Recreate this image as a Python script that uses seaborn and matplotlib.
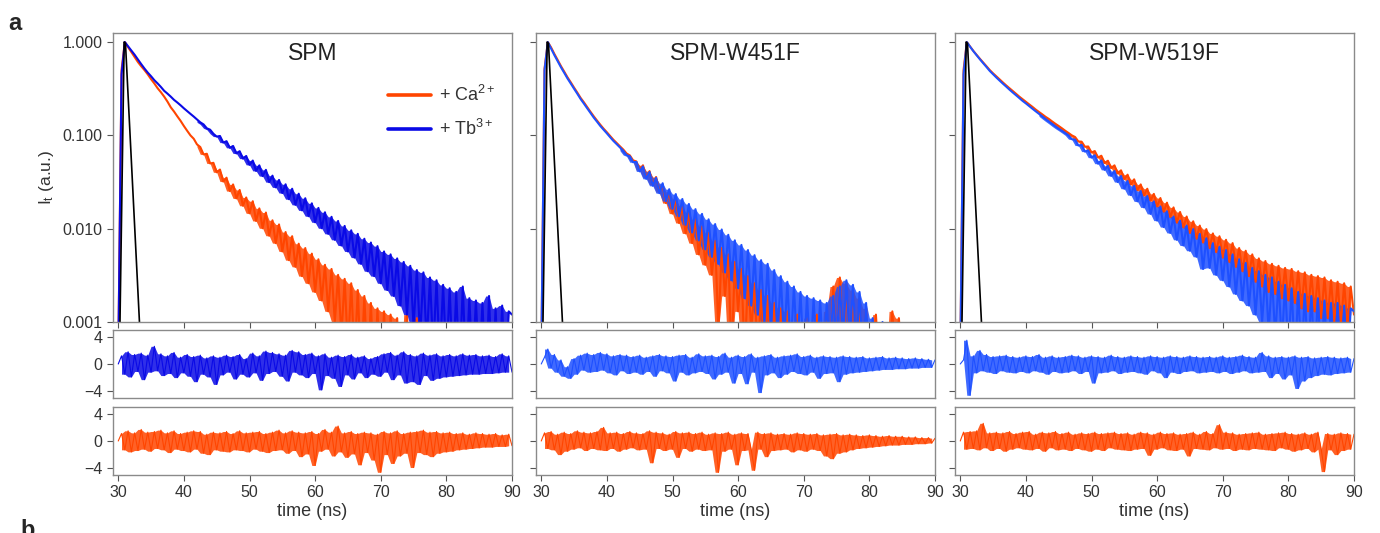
import numpy as np
import matplotlib
matplotlib.use("Agg")
import matplotlib.pyplot as plt
import seaborn as sns

# %%
# time channels of the TCSPC histograms, 0.5 ns apart (30 ... 90 ns)
time_ns = np.arange(30.0, 90.01, 0.5)

# instrument response (black)
irf_time = [30.2, 30.9, 31.1, 33.3]
irf_value = [0.0005, 1.0, 0.97, 0.0008]

# normalised decays I_t, one row = 5 ns
spm_ca = [0.0004, 0.5, 1.0, 0.88, 0.78, 0.69, 0.61, 0.55, 0.50, 0.45,
          0.40, 0.36, 0.32, 0.29, 0.26, 0.23, 0.20, 0.18, 0.16, 0.143,
          0.126, 0.112, 0.100, 0.092, 0.080, 0.075, 0.0625, 0.0635, 0.0500, 0.0508,
          0.0402, 0.0430, 0.0320, 0.0352, 0.0253, 0.0298, 0.0211, 0.0260, 0.0176, 0.0216,
          0.0146, 0.0197, 0.0121, 0.0165, 0.0101, 0.0149, 0.0084, 0.0123, 0.0070, 0.0111,
          0.0057, 0.0092, 0.0046, 0.0083, 0.0039, 0.0069, 0.0031, 0.0062, 0.0026, 0.0054,
          0.0021, 0.0047, 0.0017, 0.0041, 0.0013, 0.0037, 0.0010, 0.0032, 0.0007, 0.0029,
          0.0005, 0.0026, 0.0004, 0.0022, 0.0003, 0.0019, 0.0003, 0.0016, 0.0002, 0.0014,
          0.0002, 0.0013, 0.0002, 0.0012, 0.0002, 0.0011, 0.0002, 0.0002, 0.0012, 0.0002,
          0.0002, 0.0011, 0.0002, 0.0002, 0.0002, 0.0002, 0.0002, 0.0002, 0.0002, 0.0002,
          0.0002, 0.0002, 0.0002, 0.0002, 0.0002, 0.0002, 0.0002, 0.0002, 0.0002, 0.0002,
          0.0002, 0.0002, 0.0002, 0.0002, 0.0002, 0.0002, 0.0002, 0.0002, 0.0002, 0.0002,
          0.0002]
spm_tb = [0.0004, 0.45, 1.0, 0.90, 0.81, 0.73, 0.65, 0.58, 0.52, 0.47,
          0.43, 0.39, 0.36, 0.33, 0.30, 0.28, 0.26, 0.24, 0.225, 0.21,
          0.195, 0.182, 0.170, 0.159, 0.148, 0.138, 0.131, 0.119, 0.115, 0.104,
          0.097, 0.0985, 0.0836, 0.0866, 0.0735, 0.0770, 0.0640, 0.0677, 0.0563, 0.0601,
          0.0483, 0.0537, 0.0416, 0.0477, 0.0366, 0.0427, 0.0315, 0.0370, 0.0277, 0.0333,
          0.0241, 0.0299, 0.0207, 0.0268, 0.0180, 0.0237, 0.0157, 0.0212, 0.0136, 0.0187,
          0.0117, 0.0167, 0.0101, 0.0150, 0.0088, 0.0134, 0.0076, 0.0121, 0.0066, 0.0107,
          0.0057, 0.0096, 0.0049, 0.0088, 0.0042, 0.0078, 0.0035, 0.0071, 0.0031, 0.0065,
          0.0026, 0.0057, 0.0022, 0.0053, 0.0019, 0.0048, 0.0015, 0.0044, 0.0012, 0.0040,
          0.0009, 0.0036, 0.0007, 0.0034, 0.0006, 0.0030, 0.0005, 0.0028, 0.0004, 0.0025,
          0.0004, 0.0023, 0.0003, 0.0021, 0.0003, 0.0024, 0.0003, 0.0018, 0.0003, 0.0017,
          0.0003, 0.0016, 0.0002, 0.0019, 0.0002, 0.0014, 0.0002, 0.0015, 0.0002, 0.0013,
          0.0012]

w451f_ca = [0.0004, 0.52, 1.0, 0.876, 0.746, 0.643, 0.553, 0.482, 0.419, 0.370,
            0.325, 0.287, 0.252, 0.226, 0.201, 0.179, 0.160, 0.144, 0.130, 0.118,
            0.108, 0.0984, 0.0897, 0.0828, 0.0763, 0.0705, 0.0640, 0.0610, 0.0540, 0.0525,
            0.0424, 0.0478, 0.0353, 0.0414, 0.0297, 0.0358, 0.0247, 0.0295, 0.0188, 0.0248,
            0.0145, 0.0210, 0.0115, 0.0177, 0.0089, 0.0150, 0.0070, 0.0126, 0.0053, 0.0106,
            0.0041, 0.0090, 0.0032, 0.0074, 0.0008, 0.0062, 0.0019, 0.0053, 0.0004, 0.0044,
            0.0013, 0.0037, 0.0004, 0.0031, 0.0008, 0.0026, 0.0004, 0.0022, 0.0004, 0.0019,
            0.0003, 0.0016, 0.0003, 0.0014, 0.0003, 0.0013, 0.0003, 0.0003, 0.0012, 0.0003,
            0.0003, 0.0011, 0.0003, 0.0003, 0.0012, 0.0003, 0.0003, 0.0013, 0.0004, 0.0024,
            0.0005, 0.0030, 0.0005, 0.0026, 0.0004, 0.0022, 0.0004, 0.0018, 0.0003, 0.0014,
            0.0003, 0.0003, 0.0012, 0.0003, 0.0003, 0.0003, 0.0003, 0.0013, 0.0003, 0.0011,
            0.0003, 0.0003, 0.0003, 0.0003, 0.0003, 0.0003, 0.0003, 0.0003, 0.0003, 0.0003,
            0.0003]
w451f_tb = [0.0004, 0.5, 1.0, 0.851, 0.724, 0.624, 0.537, 0.468, 0.407, 0.359,
            0.316, 0.279, 0.245, 0.219, 0.195, 0.174, 0.155, 0.140, 0.126, 0.115,
            0.105, 0.0955, 0.0871, 0.0804, 0.0741, 0.0684, 0.0615, 0.0597, 0.0515, 0.0520,
            0.0411, 0.0464, 0.0342, 0.0406, 0.0288, 0.0351, 0.0240, 0.0307, 0.0197, 0.0265,
            0.0163, 0.0235, 0.0136, 0.0208, 0.0110, 0.0184, 0.0091, 0.0162, 0.0075, 0.0144,
            0.0060, 0.0126, 0.0050, 0.0112, 0.0042, 0.0098, 0.0034, 0.0086, 0.0028, 0.0075,
            0.0023, 0.0067, 0.0018, 0.0059, 0.0015, 0.0052, 0.0012, 0.0046, 0.0010, 0.0042,
            0.0008, 0.0036, 0.0007, 0.0031, 0.0006, 0.0027, 0.0005, 0.0024, 0.0005, 0.0021,
            0.0004, 0.0019, 0.0004, 0.0018, 0.0004, 0.0017, 0.0004, 0.0016, 0.0005, 0.0019,
            0.0006, 0.0024, 0.0007, 0.0028, 0.0006, 0.0025, 0.0005, 0.0021, 0.0004, 0.0016,
            0.0003, 0.0011, 0.0003, 0.0003, 0.0010, 0.0003, 0.0003, 0.0003, 0.0003, 0.0003,
            0.0003, 0.0003, 0.0003, 0.0003, 0.0003, 0.0003, 0.0003, 0.0003, 0.0003, 0.0003,
            0.0003]

w519f_ca = [0.0004, 0.5, 1.0, 0.895, 0.803, 0.728, 0.661, 0.603, 0.550, 0.501,
            0.462, 0.429, 0.398, 0.369, 0.343, 0.320, 0.299, 0.279, 0.260, 0.244,
            0.229, 0.215, 0.202, 0.189, 0.178, 0.168, 0.158, 0.150, 0.141, 0.133,
            0.126, 0.119, 0.112, 0.106, 0.100, 0.096, 0.086, 0.0855, 0.0755, 0.0760,
            0.0655, 0.0679, 0.0578, 0.0605, 0.0505, 0.0535, 0.0446, 0.0477, 0.0390, 0.0422,
            0.0340, 0.0379, 0.0298, 0.0338, 0.0259, 0.0298, 0.0227, 0.0268, 0.0200, 0.0236,
            0.0173, 0.0213, 0.0152, 0.0190, 0.0133, 0.0169, 0.0116, 0.0151, 0.0103, 0.0135,
            0.0090, 0.0120, 0.0078, 0.0108, 0.0071, 0.0099, 0.0062, 0.0089, 0.0056, 0.0083,
            0.0049, 0.0076, 0.0044, 0.0070, 0.0039, 0.0062, 0.0035, 0.0058, 0.0031, 0.0053,
            0.0027, 0.0048, 0.0024, 0.0045, 0.0021, 0.0042, 0.0020, 0.0040, 0.0018, 0.0038,
            0.0017, 0.0037, 0.0016, 0.0035, 0.0014, 0.0034, 0.0013, 0.0032, 0.0013, 0.0031,
            0.0011, 0.0030, 0.0011, 0.0028, 0.0010, 0.0027, 0.0009, 0.0026, 0.0009, 0.0024,
            0.0012]
w519f_tb = [0.0004, 0.45, 1.0, 0.891, 0.798, 0.721, 0.653, 0.593, 0.540, 0.490,
            0.452, 0.417, 0.386, 0.358, 0.333, 0.309, 0.288, 0.269, 0.251, 0.234,
            0.220, 0.206, 0.193, 0.181, 0.170, 0.160, 0.150, 0.141, 0.133, 0.125,
            0.118, 0.112, 0.106, 0.100, 0.091, 0.090, 0.0778, 0.0791, 0.0670, 0.0691,
            0.0577, 0.0612, 0.0497, 0.0538, 0.0427, 0.0472, 0.0368, 0.0415, 0.0316, 0.0367,
            0.0268, 0.0325, 0.0229, 0.0288, 0.0196, 0.0253, 0.0169, 0.0224, 0.0144, 0.0196,
            0.0122, 0.0173, 0.0104, 0.0154, 0.0090, 0.0135, 0.0076, 0.0122, 0.0066, 0.0108,
            0.0058, 0.0099, 0.0050, 0.0088, 0.0037, 0.0079, 0.0038, 0.0070, 0.0032, 0.0064,
            0.0028, 0.0059, 0.0024, 0.0053, 0.0020, 0.0047, 0.0017, 0.0043, 0.0015, 0.0038,
            0.0012, 0.0035, 0.0010, 0.0032, 0.0008, 0.0030, 0.0007, 0.0027, 0.0006, 0.0025,
            0.0005, 0.0023, 0.0004, 0.0021, 0.0004, 0.0020, 0.0004, 0.0019, 0.0004, 0.0018,
            0.0004, 0.0017, 0.0003, 0.0016, 0.0003, 0.0016, 0.0003, 0.0015, 0.0003, 0.0014,
            0.0013]

# weighted residuals of the fits
res_spm_tb = [0.0, 1.2, -1.5, 1.8, -1.9, 1.4, -1.1, 1.6, -2.3, 1.3,
              -1.2, 2.6, -1.0, 1.5, -1.7, 1.2, -1.4, 1.7, -2.0, 1.0,
              -1.3, 1.4, -1.8, 1.1, -2.6, 1.3, -1.5, 0.9, -1.9, 1.2,
              -3.0, 1.0, -1.6, 1.3, -1.2, 1.1, -2.2, 1.4, -1.5, 0.8,
              -1.9, 1.6, -1.3, 1.2, -2.4, 1.9, -1.4, 1.7, -1.1, 1.5,
              -1.8, 1.3, -2.5, 2.0, -1.2, 1.8, -1.6, 1.4, -2.0, 1.6,
              -1.4, 1.2, -3.8, 1.5, -1.7, 1.0, -2.1, 1.3, -3.3, 1.1,
              -1.6, 1.4, -2.2, 1.0, -1.3, 1.2, -2.0, 0.8, -1.5, 1.1,
              -1.8, 1.5, -1.2, 1.7, -2.3, 1.3, -1.6, 1.8, -2.8, 1.4,
              -2.6, 1.2, -3.0, 1.6, -1.7, 1.3, -2.4, 1.5, -2.1, 1.2,
              -1.9, 1.4, -1.8, 1.2, -1.7, 1.5, -1.6, 1.3, -1.5, 1.4,
              -1.5, 1.2, -1.4, 1.3, -1.4, 1.1, -1.3, 1.5, -1.2, 1.2,
              -1.2]
res_spm_ca = [0.0, 1.1, -1.3, 1.5, -1.6, 1.2, -1.4, 1.7, -1.2, 1.3,
              -1.5, 1.4, -1.1, 1.6, -1.3, 1.2, -1.7, 1.5, -1.2, 1.1,
              -1.4, 1.3, -1.6, 1.5, -1.2, 1.4, -1.8, 1.0, -2.0, 1.3,
              -1.3, 1.2, -1.5, 1.4, -1.6, 1.1, -1.3, 1.5, -1.4, 1.2,
              -1.6, 1.3, -1.2, 1.4, -1.5, 1.1, -1.7, 1.3, -1.4, 1.6,
              -1.3, 1.2, -1.8, 1.5, -1.4, 1.3, -2.3, 1.2, -1.9, 1.4,
              -3.6, 1.1, -1.5, 1.7, -1.2, 1.3, -2.2, 2.2, -1.6, 1.2,
              -2.4, 1.4, -1.9, 1.1, -3.5, 1.3, -1.7, 1.2, -2.8, 1.0,
              -4.6, 1.4, -2.0, 1.2, -3.3, 1.5, -2.2, 1.1, -1.8, 1.3,
              -3.9, 1.4, -1.7, 1.6, -2.0, 1.3, -2.3, 1.4, -1.8, 1.2,
              -1.6, 1.3, -1.5, 1.1, -1.3, 1.2, -1.2, 1.0, -1.1, 1.2,
              -1.0, 1.1, -0.9, 1.0, -0.9, 1.1, -0.8, 0.9, -0.8, 1.0,
              -0.7]
res_w451f_tb = [0.0, 1.0, 2.2, -0.6, 1.4, -1.2, 0.6, -1.8, -0.4, -2.1,
                0.8, -1.5, 1.3, -0.9, 1.6, -1.2, 1.4, -1.1, 1.7, -0.9,
                1.5, -1.3, 1.2, -1.6, 1.4, -1.0, 1.3, -1.4, 1.1, -1.2,
                1.3, -1.5, 1.0, -1.1, 1.2, -1.8, 1.4, -1.0, 1.2, -1.3,
                1.1, -2.5, 1.3, -1.2, 1.4, -1.6, 1.0, -1.3, 1.5, -1.1,
                1.2, -1.4, 1.3, -2.2, 1.1, -1.5, 1.6, -1.2, 1.0, -2.8,
                1.3, -1.4, 1.1, -2.9, 1.5, -1.2, 1.0, -4.2, 1.2, -1.6,
                1.4, -1.3, 1.0, -2.0, 1.2, -1.5, 1.3, -1.1, 1.5, -1.4,
                1.1, -1.6, 1.3, -1.2, 1.0, -2.1, 1.2, -1.4, 1.1, -1.3,
                1.0, -2.6, 1.2, -1.5, 1.1, -1.3, 1.0, -1.2, 1.1, -1.1,
                0.9, -1.0, 1.0, -0.9, 1.1, -0.8, 0.9, -0.8, 1.0, -0.7,
                0.9, -0.7, 0.8, -0.6, 0.9, -0.6, 0.8, -0.5, 0.7, -0.5,
                0.6]
res_w451f_ca = [0.0, 1.2, -1.1, 1.4, -1.3, 1.0, -2.0, 1.3, -1.5, 1.1,
                -1.2, 1.5, -1.0, 1.3, -1.4, 1.2, -1.1, 1.4, -1.3, 2.0,
                -1.4, 1.2, -1.1, 1.3, -1.5, 1.1, -1.2, 1.4, -1.0, 1.2,
                -1.3, 1.1, -1.2, 1.5, -3.2, 1.3, -1.1, 1.2, -1.4, 1.0,
                -1.2, 1.4, -2.4, 1.2, -1.1, 1.3, -1.5, 1.1, -1.2, 1.3,
                -1.4, 1.0, -1.3, 1.2, -4.6, 1.1, -1.5, 1.3, -1.2, 1.0,
                -3.5, 1.2, -1.4, 1.1, -1.3, -4.3, 1.3, -1.2, 1.1, -2.3,
                1.2, -1.4, 1.0, -1.3, 1.1, -1.2, 1.0, -1.6, 1.2, -1.3,
                1.1, -1.5, 1.0, -1.2, 1.1, -1.4, 0.9, -2.2, 1.0, -2.6,
                1.1, -1.8, 0.9, -1.6, 1.0, -1.3, 0.9, -1.1, 0.8, -1.0,
                0.9, -0.9, 0.8, -0.8, 0.7, -0.7, 0.8, -0.6, 0.7, -0.6,
                0.7, -0.5, 0.6, -0.5, 0.6, -0.4, 0.5, -0.4, 0.5, -0.3,
                0.4]
res_w519f_tb = [0.0, 0.6, 3.5, -4.6, 1.2, -1.3, 2.0, -1.0, 1.4, -1.2,
                1.1, -1.4, 1.2, -1.0, 1.3, -1.2, 1.1, -1.3, 1.0, -1.1,
                1.2, -1.3, 1.1, -1.0, 1.4, -1.2, 1.0, -1.5, 1.2, -1.1,
                1.0, -1.3, 1.1, -1.2, 1.3, -1.0, 1.2, -1.4, 1.0, -1.1,
                1.2, -2.8, 1.1, -1.3, 1.0, -1.2, 1.3, -1.0, 1.1, -1.4,
                1.0, -1.2, 1.2, -1.1, 1.1, -1.3, 1.0, -1.5, 1.2, -1.0,
                1.1, -1.3, 1.0, -2.0, 1.2, -1.2, 1.1, -1.4, 1.0, -1.1,
                1.2, -1.0, 1.1, -1.3, 1.0, -1.2, 1.1, -1.1, 1.0, -1.3,
                1.2, -1.1, 1.0, -1.4, 1.1, -1.2, 1.3, -1.0, 1.1, -1.3,
                1.0, -1.2, 1.7, -1.1, 1.2, -2.0, 1.0, -1.4, 1.1, -2.2,
                1.0, -1.6, 1.2, -3.6, 1.0, -2.5, 1.1, -2.0, 0.9, -1.7,
                1.0, -1.5, 1.1, -1.6, 1.0, -1.4, 0.9, -1.3, 1.0, -1.2,
                0.8]
res_w519f_ca = [0.0, 1.3, -1.2, 1.4, -1.1, 1.5, -1.3, 2.6, -1.0, 1.2,
                -1.4, 1.3, -1.1, 1.2, -1.5, 1.4, -1.2, 1.1, -1.0, 1.3,
                -1.2, 1.4, -1.3, 1.0, -1.1, 1.3, -1.5, 1.2, -1.0, 1.4,
                -1.3, 1.1, -1.2, 1.3, -1.4, 1.0, -1.1, 1.2, -1.3, 1.1,
                -1.5, 1.3, -1.2, 1.1, -1.4, 1.2, -1.0, 1.3, -1.2, 1.1,
                -1.3, 1.2, -1.4, 1.0, -1.2, 1.3, -1.1, 1.2, -2.1, 1.0,
                -1.2, 1.3, -1.0, 1.1, -1.3, 1.2, -1.4, 1.0, -1.2, 1.1,
                -2.2, 1.3, -1.1, 1.0, -1.2, 1.4, -1.3, 1.1, -1.0, 2.4,
                -1.2, 1.3, -1.1, 1.2, -1.4, 1.0, -1.2, 1.1, -1.3, 1.2,
                -1.1, 1.3, -1.2, 1.0, -1.3, 1.1, -1.4, 1.2, -1.0, 1.3,
                -1.2, 1.1, -1.5, 1.0, -1.3, 1.2, -1.1, 1.0, -1.6, 1.3,
                -1.2, -4.5, 1.1, -1.3, 1.0, -2.0, 1.2, -1.4, 1.1, -1.2,
                1.0]

panel_titles = ["SPM", "SPM-W451F", "SPM-W519F"]
decays_ca = [spm_ca, w451f_ca, w519f_ca]
decays_tb = [spm_tb, w451f_tb, w519f_tb]
resid_tb = [res_spm_tb, res_w451f_tb, res_w519f_tb]
resid_ca = [res_spm_ca, res_w451f_ca, res_w519f_ca]

# %%
sns.set_style("ticks")
plt.rcParams['font.family'] = ['Liberation Sans', 'DejaVu Sans']
plt.rcParams['mathtext.fontset'] = 'custom'
plt.rcParams['mathtext.rm'] = 'Liberation Sans'
plt.rcParams['mathtext.it'] = 'Liberation Sans'

RED = "#ff4500"
BLUES = ["#0a0ae6", "#1e50ff", "#1e50ff"]
SPINE = "#8a8a8a"
TXT = "#333333"

W, H = 1380, 533
lefts = [113, 536, 955]
width = 399


def style_axes(ax):
    for s in ax.spines.values():
        s.set_color(SPINE)
        s.set_linewidth(1.0)
    ax.tick_params(direction="out", length=4, width=0.8, color="#555555",
                   labelcolor=TXT, labelsize=11.5)
    ax.minorticks_off()


def seg(x, y):
    n = min(len(x), len(y))
    return np.asarray(x[:n]), np.asarray(y[:n])


def noisy_trace(ax, x, y, color, start=0, label=None, lw=1.0):
    """line through the channels plus the spread between neighbouring
    channels filled in, so the noise reads as a dense band"""
    x, y = seg(x, y)
    a, b = y[start:-1], y[start + 1:]
    ax.fill_between(x[start:-1], np.minimum(a, b), np.maximum(a, b),
                    color=color, lw=0, alpha=0.85)
    sns.lineplot(x=x, y=y, ax=ax, color=color, lw=lw, estimator=None,
                 sort=False, label=label)


fig = plt.figure(figsize=(W / 100, H / 100), dpi=100)

for i in range(3):
    l = lefts[i] / W
    w = width / W
    ax = fig.add_axes([l, 1 - 322 / H, w, 289 / H])
    r1 = fig.add_axes([l, 1 - 398 / H, w, 68 / H])
    r2 = fig.add_axes([l, 1 - 475 / H, w, 68 / H])

    # decays
    noisy_trace(ax, time_ns, decays_ca[i], RED, start=24, lw=1.5,
                label=r"+ Ca$^{\mathregular{2+}}$" if i == 0 else None)
    noisy_trace(ax, time_ns, decays_tb[i], BLUES[i], start=24, lw=1.5,
                label=r"+ Tb$^{\mathregular{3+}}$" if i == 0 else None)
    sns.lineplot(x=irf_time, y=irf_value, ax=ax, color="black", lw=1.2,
                 estimator=None, sort=False)
    ax.set_yscale("log")
    ax.set_ylim(0.001, 1.25)
    ax.set_xlim(29.2, 90)
    ax.set_yticks([0.001, 0.01, 0.1, 1.0])
    ax.set_xticks(range(30, 91, 10))
    ax.set_xticklabels([])
    ax.set_xlabel("")
    if i == 0:
        ax.set_yticklabels(["0.001", "0.010", "0.100", "1.000"])
        ax.set_ylabel(r"I$_{\mathregular{t}}$ (a.u.)", fontsize=12.5, color=TXT, labelpad=5)
        leg = ax.legend(loc="upper right", bbox_to_anchor=(1.0, 0.875), frameon=False,
                        handlelength=2.4, handletextpad=0.45, labelspacing=0.75,
                        fontsize=13)
        for h in leg.get_lines():
            h.set_linewidth(2.6)
        for t in leg.get_texts():
            t.set_color(TXT)
    else:
        ax.set_yticklabels([])
        ax.set_ylabel("")
    ax.text(0.5, 0.97, panel_titles[i], transform=ax.transAxes, ha="center",
            va="top", fontsize=16.5, color="#222222")
    style_axes(ax)

    # residuals
    for rax, res, col in [(r1, resid_tb[i], BLUES[i]), (r2, resid_ca[i], RED)]:
        noisy_trace(rax, time_ns, res, col, start=1, lw=0.8)
        rax.set_xlim(29.2, 90)
        rax.set_ylim(-5, 5)
        rax.set_yticks([-4, 0, 4])
        if i == 0:
            rax.set_yticklabels(["\u22124", "0", "4"])
        else:
            rax.set_yticklabels([])
        rax.set_xlabel("")
        rax.set_ylabel("")
        style_axes(rax)
    r1.set_xticks([])
    r2.set_xticks(range(30, 91, 10))
    r2.set_xlabel("time (ns)", fontsize=13, color=TXT, labelpad=2)

fig.text(8 / W, 1 - 30 / H, "a", fontsize=17, fontweight="bold", va="baseline")
fig.text(20 / W, 1 - 537 / H, "b", fontsize=17, fontweight="bold", va="baseline")

fig.savefig("out.png", dpi=100)
